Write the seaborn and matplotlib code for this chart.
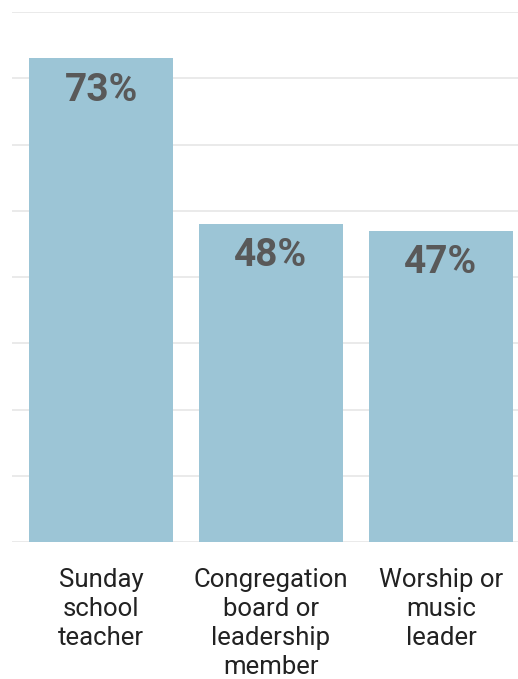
import matplotlib
matplotlib.use("Agg")
import matplotlib.pyplot as plt
import seaborn as sns
import pandas as pd

categories = ["Sunday\nschool\nteacher", "Congregation\nboard or\nleadership\nmember", "Worship or\nmusic\nleader"]
values = [73, 48, 47]
grid_ticks = [0, 10, 20, 30, 40, 50, 60, 70, 80]

sns.set_theme(style="white")
plt.rcParams["font.family"] = ["Roboto", "DejaVu Sans"]

df = pd.DataFrame({"role": categories, "pct": values})

fig = plt.figure(figsize=(5.18, 6.79), dpi=100)
ax = fig.add_axes([12 / 518, 1 - 542 / 679, 1 - 12 / 518, (542 - 12) / 679])

sns.barplot(data=df, x="role", y="pct", color="#9CC5D6", saturation=1,
            width=144 / 170, ax=ax, zorder=2)
for p in ax.patches:
    p.set_edgecolor("none")

ax.set_ylim(0, 80)
ax.set_xlim(-89 / 170, 2 + 77 / 170)
ax.set_yticks(grid_ticks)
ax.yaxis.grid(True, color="#E6E6E6", linewidth=1.2, zorder=0)
ax.set_axisbelow(True)
ax.tick_params(axis="y", left=False, labelleft=False)
ax.tick_params(axis="x", bottom=False, pad=13, labelsize=18.5, labelcolor="#222222")
for lbl in ax.get_xticklabels():
    lbl.set_linespacing(1.26)
for s in ax.spines.values():
    s.set_visible(False)
ax.set_xlabel("")
ax.set_ylabel("")

for i, v in enumerate(values):
    ax.annotate(f"{v}%", xy=(i, v), xytext=(0, -32), textcoords="offset pixels",
                ha="center", va="center", fontsize=28, fontweight="bold",
                color="#595959", zorder=3)

fig.savefig("out.png", dpi=100)
